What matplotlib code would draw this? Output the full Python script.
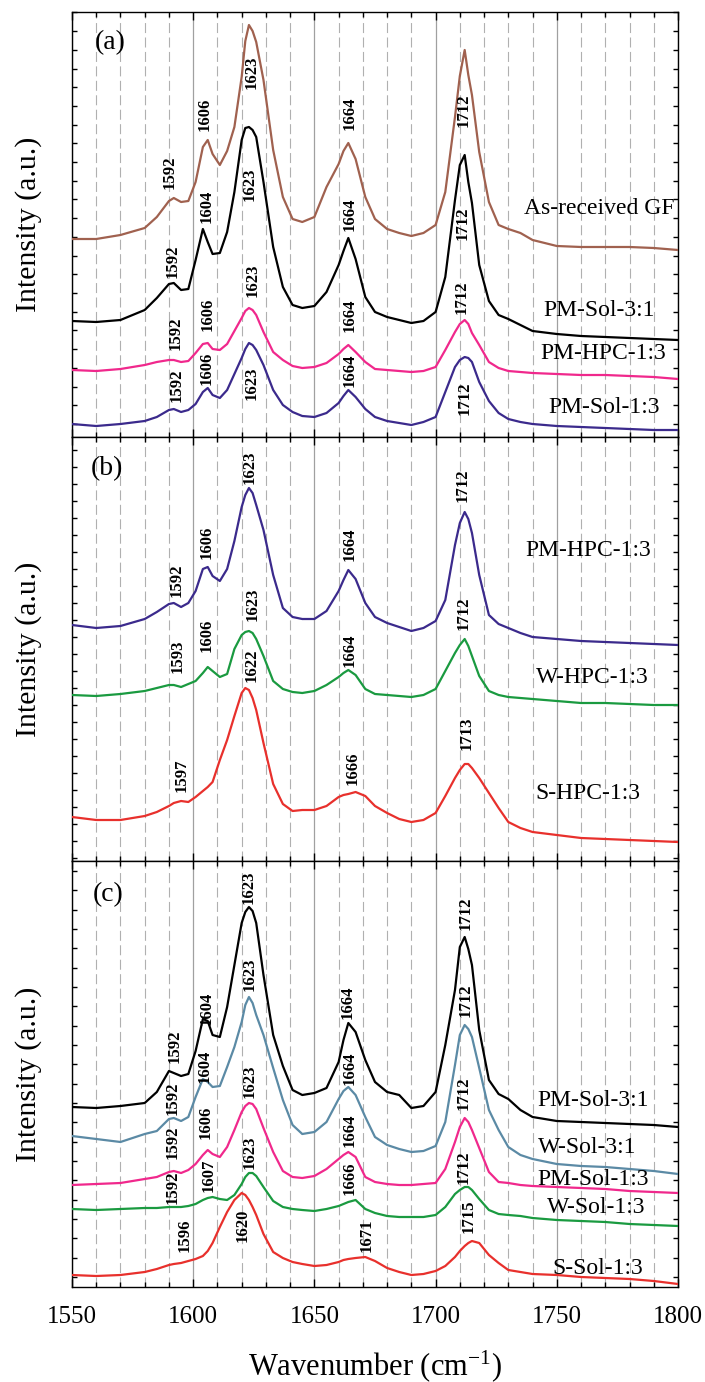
import numpy as np
import matplotlib
matplotlib.use('Agg')
import matplotlib.pyplot as plt
from matplotlib.ticker import MultipleLocator, FixedLocator, NullFormatter

plt.rcParams['font.family'] = ['Liberation Serif', 'DejaVu Serif']
plt.rcParams['mathtext.fontset'] = 'custom'
plt.rcParams['mathtext.rm'] = 'Liberation Serif'
plt.rcParams['mathtext.it'] = 'Liberation Serif:italic'

# shared wavenumber grid (cm-1)
wavenumber = [1550, 1560, 1570, 1580, 1585, 1590, 1592, 1595, 1598, 1601, 1604, 1606, 1608,
              1611, 1614, 1617, 1620, 1621.5, 1623, 1624.5, 1626, 1629, 1633, 1637, 1641,
              1645, 1650, 1655, 1660, 1662, 1664, 1667, 1671, 1675, 1680, 1685, 1690, 1695,
              1700, 1704, 1708, 1710, 1712, 1713.5, 1715, 1718, 1722, 1726, 1730, 1735,
              1740, 1750, 1760, 1770, 1780, 1790, 1800]

# panel (a)
as_received_gf = [198, 198, 202, 209, 220, 236, 239, 235, 236, 255, 290, 297, 283,
                  272, 286, 310, 360, 396, 412, 406, 395, 357, 287, 240, 218,
                  215, 220, 250, 273, 286, 294, 278, 240, 218, 208, 204, 201, 204,
                  212, 245, 320, 361, 387, 362, 342, 285, 235, 212, 208, 204,
                  197, 191, 190, 190, 190, 189, 187]
pm_sol_31_a = [116, 115, 117, 127, 139, 153, 154, 147, 148, 177, 208, 195, 183,
               184, 205, 245, 297, 309, 310, 307, 300, 255, 190, 150, 132,
               129, 131, 145, 172, 186, 199, 178, 140, 125, 120, 117, 114, 116,
               125, 160, 237, 272, 282, 255, 234, 172, 136, 122, 118, 112,
               106, 103, 101, 100, 99, 98, 97]
pm_hpc_13_a = [67, 66, 68, 72, 75, 77, 77, 75, 76, 84, 93, 94, 88,
               87, 93, 106, 119, 126, 129, 127, 122, 105, 85, 77, 71,
               69, 70, 74, 83, 88, 92, 85, 75, 68, 67, 66, 65, 66,
               70, 87, 105, 113, 117, 113, 104, 92, 75, 69, 66, 65,
               64, 63, 62, 62, 61, 60, 58]
pm_sol_13_a = [13, 11, 13, 16, 20, 27, 28, 25, 27, 33, 45, 49, 42,
               39, 47, 63, 79, 88, 94, 92, 87, 72, 47, 32, 25,
               21, 20, 24, 34, 41, 47, 40, 28, 20, 16, 14, 12, 15,
               20, 45, 70, 77, 80, 79, 75, 55, 36, 24, 18, 15,
               13, 11, 10, 9, 8, 7, 7]

# panel (b)
pm_hpc_13_b = [236, 233, 235, 242, 249, 257, 258, 254, 258, 270, 292, 294, 285,
               280, 292, 320, 354, 366, 373, 368, 356, 331, 286, 253, 244,
               242, 242, 250, 270, 281, 291, 282, 258, 244, 238, 234, 230, 233,
               240, 261, 316, 338, 349, 342, 328, 286, 246, 237, 233, 228,
               224, 222, 220, 219, 218, 217, 216]
w_hpc_13 = [166, 165, 167, 170, 173, 176, 176, 174, 177, 180, 188, 194, 190,
            184, 187, 212, 226, 229, 230, 228, 222, 205, 180, 172, 169,
            168, 170, 176, 184, 188, 191, 186, 172, 167, 166, 165, 164, 166,
            172, 190, 208, 216, 222, 215, 205, 185, 170, 166, 164, 163,
            162, 160, 158, 158, 157, 156, 156]
s_hpc_13 = [44, 41, 41, 45, 49, 55, 58, 60, 59, 64, 70, 74, 79,
            101, 121, 145, 168, 173, 171, 163, 151, 118, 77, 57, 50,
            51, 51, 55, 64, 66, 67, 69, 65, 55, 48, 42, 39, 41,
            48, 65, 83, 91, 97, 97, 93, 83, 68, 53, 39, 33,
            29, 26, 23, 22, 21, 20, 19]

# panel (c)
pm_sol_31_c = [180, 179, 181, 184, 195, 216, 214, 211, 213, 236, 268, 266, 252,
               250, 280, 322, 364, 375, 380, 376, 364, 312, 252, 221, 197,
               192, 194, 199, 225, 247, 264, 255, 227, 205, 195, 192, 179, 181,
               195, 242, 297, 340, 350, 338, 322, 257, 207, 193, 188, 177,
               170, 166, 165, 164, 163, 162, 160]
w_sol_31 = [151, 148, 145, 153, 156, 168, 169, 166, 170, 190, 208, 205, 200,
            201, 220, 240, 265, 282, 290, 284, 272, 252, 219, 187, 162,
            153, 155, 165, 188, 196, 200, 192, 170, 150, 142, 138, 135, 136,
            141, 165, 222, 252, 262, 258, 250, 219, 177, 157, 140, 132,
            128, 123, 121, 120, 118, 116, 113]
pm_sol_13_c = [102, 103, 104, 108, 110, 115, 116, 114, 117, 123, 132, 137, 133,
               130, 140, 157, 175, 181, 184, 183, 178, 159, 135, 116, 110,
               109, 111, 118, 128, 132, 135, 130, 110, 105, 103, 102, 102, 103,
               104, 118, 145, 160, 169, 165, 157, 139, 115, 105, 104, 102,
               101, 100, 99, 98, 96, 95, 94]
w_sol_13 = [78, 77, 78, 79, 79, 80, 80, 80, 81, 83, 87, 89, 90,
            88, 87, 92, 103, 110, 114, 114, 111, 100, 86, 80, 78,
            77, 76, 78, 81, 83, 85, 87, 78, 74, 71, 70, 70, 70,
            72, 80, 93, 97, 100, 100, 97, 88, 77, 73, 72, 71,
            69, 67, 66, 65, 63, 62, 61]
s_sol_13 = [12, 11, 12, 15, 18, 22, 23, 24, 26, 28, 31, 36, 44,
            60, 75, 87, 94, 92, 87, 80, 72, 53, 35, 29, 25,
            23, 21, 22, 25, 27, 28, 29, 30, 26, 19, 15, 12, 13,
            16, 21, 30, 36, 41, 44, 46, 44, 32, 24, 17, 15,
            13, 12, 10, 9, 8, 6, 3]

brown = '#a0614f'
pink = '#f0288c'
indigo = '#3b2a8c'
green = '#1a9a40'
red = '#e8302c'
steel = '#5b8aa5'

panels = [
    {'tag': '(a)', 'tagpos': (0.063, 0.929), 'ylim': 425, 'tick0': 13, 'tickstep': 18.71,
     'curves': [(as_received_gf, brown), (pm_sol_31_a, 'black'),
                (pm_hpc_13_a, pink), (pm_sol_13_a, indigo)],
     'names': [('As-received GF', 1767.4, 228), ('PM-Sol-3:1', 1767.4, 127),
               ('PM-HPC-1:3', 1769.1, 84), ('PM-Sol-1:3', 1769.5, 30)],
     'peaks': [('1592', 1590.4, 265), ('1606', 1604.6, 323), ('1623', 1624.3, 365),
               ('1664', 1664.7, 324), ('1712', 1711.7, 327),
               ('1592', 1591.7, 176), ('1604', 1605.7, 231), ('1623', 1623.4, 253),
               ('1664', 1664.7, 223), ('1712', 1711.3, 214),
               ('1592', 1592.9, 104), ('1606', 1606.1, 123), ('1623', 1624.7, 157),
               ('1664', 1664.7, 122), ('1712', 1710.9, 140),
               ('1592', 1593.3, 52), ('1606', 1605.7, 69), ('1623', 1624.3, 54),
               ('1664', 1664.7, 67), ('1712', 1712.1, 39)]},
    {'tag': '(b)', 'tagpos': (0.058, 0.925), 'ylim': 424, 'tick0': 3, 'tickstep': 17.0,
     'curves': [(pm_hpc_13_b, indigo), (w_hpc_13, green), (s_hpc_13, red)],
     'names': [('PM-HPC-1:3', 1762.9, 311), ('W-HPC-1:3', 1764.5, 184),
               ('S-HPC-1:3', 1762.9, 68)],
     'peaks': [('1592', 1593.3, 281), ('1606', 1605.7, 319), ('1623', 1623.4, 394),
               ('1664', 1664.7, 317), ('1712', 1711.3, 376),
               ('1593', 1593.7, 205), ('1606', 1605.7, 226), ('1623', 1624.7, 257),
               ('1664', 1664.7, 211), ('1712', 1711.7, 248),
               ('1597', 1595.4, 86), ('1622', 1624.3, 196), ('1666', 1665.9, 93),
               ('1713', 1713.0, 128)]},
    {'tag': '(c)', 'tagpos': (0.059, 0.922), 'ylim': 426, 'tick0': 10, 'tickstep': 19.33,
     'curves': [(pm_sol_31_c, 'black'), (w_sol_31, steel), (pm_sol_13_c, pink),
                (w_sol_13, green), (s_sol_13, red)],
     'names': [('PM-Sol-3:1', 1764.9, 187), ('W-Sol-3:1', 1762.5, 140),
               ('PM-Sol-1:3', 1764.9, 108), ('W-Sol-1:3', 1766.2, 80),
               ('S-Sol-1:3', 1767.0, 19)],
     'peaks': [('1592', 1592.5, 241), ('1604', 1605.7, 279), ('1623', 1623.0, 400),
               ('1664', 1663.9, 285), ('1712', 1712.5, 374),
               ('1592', 1591.7, 189), ('1604', 1604.9, 221), ('1623', 1623.4, 313),
               ('1664', 1664.7, 219), ('1712', 1712.5, 287),
               ('1592', 1591.7, 145), ('1606', 1605.3, 165), ('1623', 1623.4, 206),
               ('1664', 1664.7, 157), ('1712', 1711.7, 194),
               ('1592', 1591.7, 100), ('1607', 1606.5, 112), ('1623', 1623.4, 135),
               ('1666', 1664.7, 109), ('1712', 1711.7, 120),
               ('1596', 1596.6, 52), ('1620', 1620.5, 62), ('1671', 1671.7, 52),
               ('1715', 1713.8, 71)]},
]

fig = plt.figure(figsize=(7.05, 13.82), dpi=100)
left, width = 0.1021, 0.8596
bottoms = [0.68379, 0.37699, 0.06874]
heights = [0.30753, 0.30680, 0.30825]

for i, p in enumerate(panels):
    ax = fig.add_axes([left, bottoms[i], width, heights[i]])
    for y, c in p['curves']:
        ax.plot(wavenumber, y, color=c, lw=1.6, zorder=3,
                solid_joinstyle='round', solid_capstyle='round')
    ax.set_xlim(1550, 1800)
    ax.set_ylim(0, p['ylim'])

    ax.xaxis.set_major_locator(MultipleLocator(50))
    ax.xaxis.set_minor_locator(MultipleLocator(10))
    ax.yaxis.set_major_locator(FixedLocator(np.arange(p['tick0'], p['ylim'], p['tickstep'])))
    ax.yaxis.set_major_formatter(NullFormatter())
    ax.tick_params(axis='x', which='major', direction='in', length=6, width=1,
                   top=True, bottom=True, labelsize=18, pad=14)
    ax.tick_params(axis='x', which='minor', direction='in', length=3.5, width=1,
                   top=True, bottom=True)
    ax.tick_params(axis='y', which='major', direction='in', length=3.5, width=1,
                   left=True, right=True)
    if i < 2:
        ax.tick_params(axis='x', which='both', labelbottom=False)
    else:
        ax.set_xlabel('Wavenumber (cm$^{-1}$)', fontsize=22, labelpad=14)

    ax.set_axisbelow(True)
    ax.grid(True, axis='x', which='minor', color='#b0b0b0', lw=0.8, linestyle=(0, (9, 4)))
    ax.grid(True, axis='x', which='major', color='#a0a0a0', lw=0.9, linestyle='-')
    for s in ax.spines.values():
        s.set_linewidth(1.0)

    ax.set_ylabel('Intensity (a.u.)', fontsize=21.5)
    ax.yaxis.set_label_coords(-0.05, 0.5)

    ax.text(p['tagpos'][0], p['tagpos'][1], p['tag'], transform=ax.transAxes,
            fontsize=20, ha='center', va='center')
    for txt, x, y in p['names']:
        ax.text(x, y, txt, fontsize=17, ha='center', va='center', zorder=4)
    for txt, x, y in p['peaks']:
        ax.text(x, y, txt, fontsize=12, fontweight='bold', rotation=90,
                ha='center', va='center', zorder=4)

fig.savefig('out.png', dpi=100)
